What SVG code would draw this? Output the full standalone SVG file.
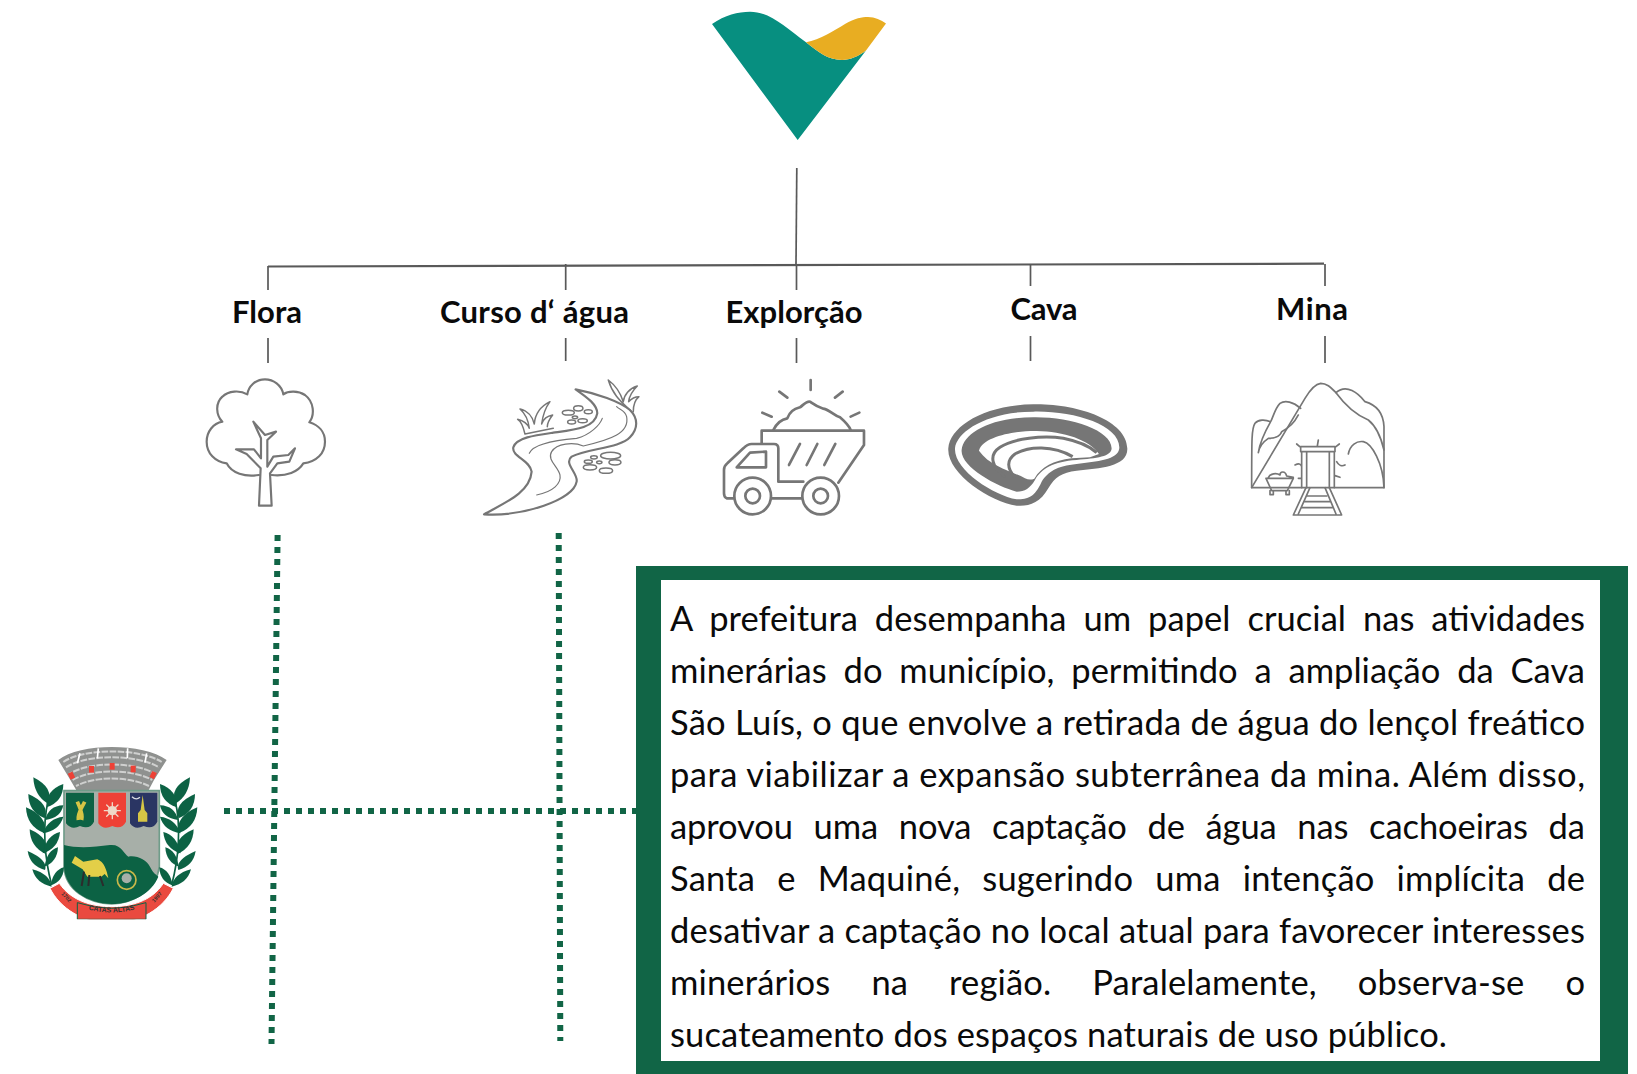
<svg xmlns="http://www.w3.org/2000/svg" width="1637" height="1074" viewBox="0 0 1637 1074">
<style>
.lbl{font-family:Lato,"Liberation Sans",sans-serif;font-weight:700;font-size:31px;fill:#0a0a0a}
.body{font-family:Lato,"Liberation Sans",sans-serif;font-size:34.5px;fill:#0a0a0a}
.ln{stroke:#595959;stroke-width:1.7;fill:none}
.dot{stroke:#116546;stroke-width:6;stroke-dasharray:6 6;fill:none}
.ic{fill:none;stroke:#767676;stroke-width:6.5;stroke-linejoin:round;stroke-linecap:round}
.thin{stroke-width:3.5}
.gr{fill:#767676}
.lf{fill:#0c6244}
</style>
<defs>
<g id="leaves">
<path class="lf" d="M100,172Q102,225 142,250Q165,205 100,172Z"/>
<path class="lf" d="M85,222Q85,275 134,295Q150,250 85,222Z"/>
<path class="lf" d="M78,262Q80,320 134,340Q145,290 78,262Z"/>
<path class="lf" d="M89,328Q90,380 137,402Q152,355 89,328Z"/>
<path class="lf" d="M83,393Q90,438 135,450Q145,420 83,393Z"/>
<path class="lf" d="M97,448Q108,490 155,500Q150,462 97,448Z"/>
<path class="lf" d="M190,192Q135,212 140,262Q190,245 190,192Z"/>
<path class="lf" d="M190,256Q145,258 136,300Q182,295 190,256Z"/>
<path class="lf" d="M190,290Q145,295 128,340Q178,332 190,290Z"/>
<path class="lf" d="M180,336Q140,345 128,400Q176,385 180,336Z"/>
<path class="lf" d="M174,382Q140,392 134,440Q172,425 174,382Z"/>
<path class="lf" d="M192,442Q160,450 152,496Q190,485 192,442Z"/>
<path d="M145,240C125,320 135,420 155,495" fill="none" stroke="#0c6244" stroke-width="5"/>
</g>
<clipPath id="armsClip"><rect x="0" y="0" width="720" height="598"/></clipPath>
</defs>

<g id="connectors">
<path class="ln" d="M796.8 168L796 264"/>
<path class="ln" style="stroke-width:2.2" d="M268 266.5L1324 263.7"/>
<path class="ln" d="M268 266V290M268 338V363"/>
<path class="ln" d="M565.7 264V290M565.7 338V361"/>
<path class="ln" d="M796.5 264V290M796.5 338V363"/>
<path class="ln" d="M1030.5 264V286M1030.5 336V361"/>
<path class="ln" d="M1325 264V286M1325 336V363"/>
<path class="dot" d="M224 811H636"/>
<path class="dot" d="M277.6 535L271.5 1044"/>
<path class="dot" d="M558.7 533L560.3 1041"/>
</g>

<g id="logo">
<path fill="#078f80" d="M712 24C725 15 738 11.7 750 11.7C770 11.7 785 27 806 42.3C818 52 828 60 842 60C850 60 859 56 866 50.5L797.7 140Z"/>
<path fill="#e8ad22" d="M806 42.3C820 40 835 30 845 24C855 18 862 17 868 17C875 17 881 20 886 23.5L866 50.5C859 56 850 60 842 60C828 60 818 52 806 42.3Z"/>
</g>

<g id="label-flora"><text class="lbl" x="232" y="323" textLength="70">Flora</text></g>
<g id="label-curso"><text class="lbl" x="440" y="323" textLength="189">Curso d‘ água</text></g>
<g id="label-exploracao"><text class="lbl" x="725.5" y="323" textLength="137">Explorção</text></g>
<g id="label-cava"><text class="lbl" x="1010.5" y="319.5" textLength="67">Cava</text></g>
<g id="label-mina"><text class="lbl" x="1276" y="319.5" textLength="72">Mina</text></g>

<g id="icon-tree" transform="translate(190 360) scale(.3333)">
<path class="ic" d="M245,345C290,350 325,335 340,310C380,305 405,280 405,245C405,215 385,195 358,187C375,165 372,125 345,105C325,92 295,92 280,103C275,75 250,58 225,58C195,58 175,80 172,103C150,90 115,92 97,110C75,130 78,165 97,185C70,190 50,215 50,245C50,280 75,305 110,310C125,340 165,352 207,345"/>
<path class="ic" d="M207,437L212,325L170,282L138,268L192,268L213,295L213,235L190,185L225,225L258,215L232,240L232,320L250,290L295,285L315,265L298,305L262,310L240,340L245,437Z"/>
</g>

<g id="icon-river" transform="translate(190 360) scale(.3333)">
<path class="ic" d="M882,463C940,430 1020,400 1025,335C1020,300 965,290 970,262C980,232 1040,225 1090,218C1150,210 1215,205 1222,160C1222,130 1180,105 1157,88C1220,100 1290,125 1320,150C1345,175 1345,205 1320,232C1290,265 1190,265 1145,290C1120,310 1165,340 1160,365C1150,420 1000,470 882,463Z"/>
<path class="ic thin" d="M1018,280C1030,250 1100,240 1160,235C1200,225 1230,195 1237,175M1040,405C1090,395 1115,370 1110,345C1105,320 1070,300 1085,275C1100,250 1150,245 1180,258C1260,240 1320,220 1310,170C1305,150 1290,150 1280,140"/>
<path class="ic thin" style="stroke-width:4.5" d="M1005,222C1000,200 995,185 983,178C1000,182 1012,190 1018,205C1015,180 1005,160 990,147C1012,152 1028,170 1033,192C1035,165 1050,140 1080,125C1065,145 1058,170 1055,192C1060,178 1070,168 1088,165C1078,178 1072,190 1072,200M1005,222L1090,205"/>
<path class="ic thin" style="stroke-width:4.5" d="M1325,155C1300,130 1270,110 1255,60C1275,75 1292,100 1300,125C1302,105 1318,85 1342,78C1328,92 1318,108 1316,125C1325,115 1335,110 1347,110C1335,120 1330,135 1330,155"/>
<g class="ic thin" style="stroke-width:4.5">
<ellipse cx="1165" cy="145" rx="14" ry="8"/><ellipse cx="1135" cy="158" rx="18" ry="7"/><ellipse cx="1195" cy="155" rx="12" ry="6"/><ellipse cx="1145" cy="186" rx="12" ry="6"/><ellipse cx="1178" cy="182" rx="14" ry="6"/><ellipse cx="1155" cy="172" rx="8" ry="4"/>
<ellipse cx="1262" cy="287" rx="30" ry="10"/><ellipse cx="1275" cy="307" rx="18" ry="8"/><ellipse cx="1212" cy="292" rx="10" ry="5"/><ellipse cx="1200" cy="322" rx="20" ry="8"/><ellipse cx="1248" cy="332" rx="20" ry="8"/><ellipse cx="1195" cy="305" rx="12" ry="5"/><ellipse cx="1228" cy="307" rx="8" ry="4"/>
</g>
</g>

<g id="icon-truck" transform="translate(700 360) scale(.3333)">
<path class="ic" style="stroke-width:8" d="M332,60V90M238,95L262,113M428,95L405,113M187,158L215,170M478,158L452,170"/>
<path class="ic" style="stroke-width:8" d="M220,210C230,190 245,178 262,175C270,155 280,148 300,142C310,135 320,122 330,125C340,132 350,140 370,146C390,150 400,165 420,172C435,185 448,200 452,210"/>
<path class="ic" style="stroke-width:8" d="M185,250V212H492V255L415,368"/>
<path class="ic" style="stroke-width:8" d="M100,415H80Q72,412 72,400V330Q72,318 82,310L130,265Q142,252 155,252H222Q235,252 235,265V365H310M215,415H305"/>
<path class="ic" style="stroke-width:8" d="M110,322L150,278L198,275V322Z"/>
<path class="ic" style="stroke-width:8" d="M300,252L267,315M352,252L320,315M406,252L373,315"/>
<g class="ic" style="stroke-width:8"><circle cx="158" cy="408" r="55"/><circle cx="158" cy="408" r="22"/><circle cx="362" cy="408" r="55"/><circle cx="362" cy="408" r="22"/></g>
</g>

<g id="icon-cava" transform="translate(700 360) scale(.3333)">
<path class="gr" d="M745,265C750,200 850,135 1000,133C1130,130 1280,180 1282,265C1285,320 1200,325 1130,332C1085,338 1065,350 1045,385C1020,430 985,440 950,437C870,425 740,340 745,265Z"/>
<path fill="#fff" d="M765,265C770,215 860,155 1000,155C1120,152 1262,195 1258,265C1255,300 1190,305 1130,312C1070,318 1045,335 1025,365C1005,410 985,418 950,418C880,405 762,330 765,265Z"/>
<path class="gr" d="M785,270C790,220 870,172 1000,172C1110,170 1235,210 1235,265C1235,290 1190,295 1130,300C1060,305 1025,325 1005,360C990,385 975,395 950,395C890,380 780,320 785,270Z"/>
<path fill="#fff" d="M837,272C850,228 950,212 1010,213C1090,214 1170,240 1197,282L1170,292L1115,295C1060,302 1025,320 1003,356Q990,362 975,355C940,335 870,320 837,272Z"/>
<path fill="none" stroke="#767676" stroke-width="9" d="M915,352C875,320 865,285 900,262C940,235 1030,225 1090,235C1140,245 1170,260 1190,278"/>
<path fill="none" stroke="#767676" stroke-width="9" d="M945,352C920,325 920,300 945,282C985,258 1060,255 1118,290"/>
</g>

<g id="icon-mina" transform="translate(1230 370) scale(.3333)">
<path class="ic thin" style="stroke-width:5" d="M65,353H462V170C460,130 440,105 405,95C385,70 350,40 318,68C300,50 290,40 272,40C255,42 240,60 225,85L65,353"/>
<path class="ic thin" style="stroke-width:5" d="M212,115C190,95 165,90 150,100C135,115 130,140 122,155C105,148 85,148 75,160C65,175 65,200 65,353M122,155C105,185 90,215 85,248C88,230 100,215 115,205C130,205 150,200 155,185C175,175 195,155 205,135"/>
<path class="ic thin" style="stroke-width:5" d="M318,68C345,105 380,135 415,150C440,170 455,210 462,240M355,252C360,225 380,212 400,215C425,220 460,280 462,353"/>
<path class="ic thin" style="stroke-width:5" d="M215,353V245H313V353M230,353V245M298,353V245M212,230H315V245H212ZM200,222L212,232M328,222L315,232M265,210L262,228M195,285C205,280 213,280 215,290M320,275C325,285 335,290 345,285M205,325H215M315,317L330,322"/>
<path class="ic thin" style="stroke-width:5" d="M228,353L190,435H335L298,353M240,353L205,432M285,353L318,432M232,378H290M225,395H300M215,413H310"/>
<path class="ic thin" style="stroke-width:5" d="M108,325H190L172,362H125ZM120,362V374H130V362M168,362V374H178V362M115,323C120,310 140,308 150,315C150,305 165,300 170,318L190,322"/>
</g>

<g id="coat-of-arms" transform="translate(0 720) scale(.3333)">
<g clip-path="url(#armsClip)">
<path fill="#8f918f" d="M175,120C240,68 430,68 500,120L462,180L445,212H230L208,175Z"/>
<g fill="none" stroke="#cfd0cf" stroke-width="6" stroke-dasharray="20 4">
<path d="M190,126C250,84 420,84 485,126"/>
<path d="M198,142C258,102 412,102 477,142"/>
<path stroke-dashoffset="10" d="M208,162C265,124 405,124 467,162"/>
<path d="M218,180C275,146 395,146 457,180"/>
<path stroke-dashoffset="10" d="M228,198C285,168 385,168 447,198"/>
</g>
<path fill="none" stroke="#fff" stroke-width="5" d="M240,100L232,130M295,85L292,115M383,85L382,115M440,100L435,128"/>
<g fill="#ee4136"><rect x="207" y="157" width="15" height="20" transform="rotate(-25 214 167)"/><rect x="267" y="138" width="15" height="20"/><rect x="329" y="129" width="15" height="20"/><rect x="392" y="137" width="15" height="20"/><rect x="452" y="155" width="15" height="20" transform="rotate(25 459 165)"/></g>
<path fill="#a7afa8" stroke="#6f9c89" stroke-width="5" d="M192,212H478V440C470,510 400,550 335,552C265,550 195,510 192,440Z"/>
<path fill="#0c6244" d="M192,375C230,385 280,382 330,375C365,372 370,400 385,410C410,405 440,420 450,440C460,460 470,465 475,470C455,520 395,552 335,552C265,550 195,510 192,440Z"/>
<path fill="#0c6244" d="M198,218H282V305Q270,330 240,318Q215,332 198,310Z"/>
<path fill="#ee4136" d="M295,218H378V305Q365,330 337,318Q310,332 295,310Z"/>
<path fill="#2a3563" d="M390,218H472V305Q460,330 431,318Q405,332 390,310Z"/>
<path fill="none" stroke="#d6c545" stroke-width="11" d="M232,245C240,265 250,280 245,300M254,245C245,265 232,280 235,300"/>
<circle cx="337" cy="272" r="14" fill="#efd9c8"/>
<path stroke="#efd9c8" stroke-width="4" stroke-linecap="round" d="M337,248V258M337,286V296M313,272H323M351,272H361M320,255L327,262M354,255L347,262M320,289L327,282M354,289L347,282"/>
<path fill="#d6c545" d="M428,225L434,270L442,280V305H414V280L422,270Z"/>
<path fill="none" stroke="#d9dde4" stroke-width="4" d="M396,230Q408,242 420,232"/>
<path fill="#e3cf48" d="M215,428L225,408L250,425L292,418C312,425 320,450 325,475L314,462L304,470L262,470L248,448Z"/>
<path stroke="#2c2c2c" stroke-width="6" fill="none" d="M252,455L245,498M268,465L265,498M300,468L310,498"/>
<circle cx="380" cy="480" r="28" fill="none" stroke="#c9b84a" stroke-width="5"/>
<circle cx="380" cy="475" r="15" fill="#a7afa8"/>
<path fill="#ea4a3f" stroke="#fff" stroke-width="3" d="M150,505L178,490C215,545 280,560 335,560C390,560 455,545 490,490L520,505C490,565 420,610 335,610C250,610 180,565 150,505Z"/>
<path fill="#ea4a3f" stroke="#0c6244" stroke-width="3" d="M232,548Q335,582 438,548L438,598H232Z"/>
<path id="bannerArc" fill="none" d="M240,560Q335,595 430,560"/>
<text font-family="Liberation Sans,sans-serif" font-weight="700" font-size="21" fill="#333" text-anchor="middle"><textPath href="#bannerArc" startOffset="50%">CATAS ALTAS</textPath></text>
<text x="195" y="535" transform="rotate(48 195 535)" text-anchor="middle" font-family="Liberation Sans,sans-serif" font-weight="700" font-size="16" fill="#333">1702</text>
<text x="475" y="535" transform="rotate(-48 475 535)" text-anchor="middle" font-family="Liberation Sans,sans-serif" font-weight="700" font-size="16" fill="#333">1997</text>
<use href="#leaves"/>
<use href="#leaves" transform="translate(670 0) scale(-1 1)"/>
</g>
</g>

<g id="text-box">
<rect x="636" y="566" width="992" height="508" fill="#116546"/>
<rect x="661" y="580" width="939" height="481" fill="#fff"/>
<text class="body" x="670" y="631" textLength="915" word-spacing="8">A prefeitura desempanha um papel crucial nas atividades</text>
<text class="body" x="670" y="683" textLength="915" word-spacing="8">minerárias do município, permitindo a ampliação da Cava</text>
<text class="body" x="670" y="735" textLength="915">São Luís, o que envolve a retirada de água do lençol freático</text>
<text class="body" x="670" y="787" textLength="915">para viabilizar a expansão subterrânea da mina. Além disso,</text>
<text class="body" x="670" y="839" textLength="915" word-spacing="12">aprovou uma nova captação de água nas cachoeiras da</text>
<text class="body" x="670" y="891" textLength="915" word-spacing="13">Santa e Maquiné, sugerindo uma intenção implícita de</text>
<text class="body" x="670" y="943" textLength="915">desativar a captação no local atual para favorecer interesses</text>
<text class="body" x="670" y="995" textLength="915" word-spacing="32">minerários na região. Paralelamente, observa-se o</text>
<text class="body" x="670" y="1047" textLength="777">sucateamento dos espaços naturais de uso público.</text>
</g>
</svg>
